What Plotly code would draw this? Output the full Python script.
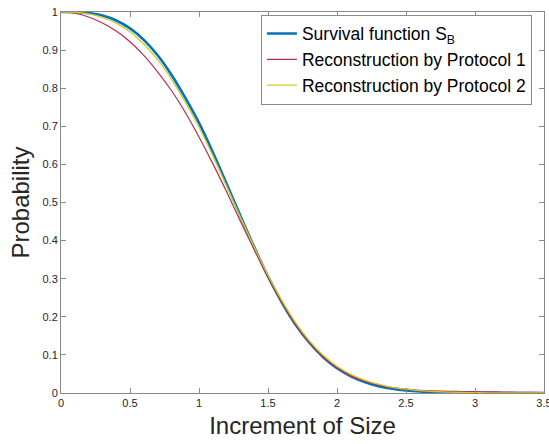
import plotly.graph_objects as go

x_vals = [0.0, 0.1, 0.2, 0.3, 0.4, 0.5, 0.6, 0.7, 0.8, 0.9,
          1.0, 1.1, 1.2, 1.3, 1.4, 1.5, 1.6, 1.7, 1.8, 1.9,
          2.0, 2.1, 2.2, 2.3, 2.4, 2.5, 2.6, 2.7, 2.8, 2.9,
          3.0, 3.1, 3.2, 3.3, 3.4, 3.5]

survival_sb = [1.0, 0.9996, 0.9972, 0.9906, 0.9778, 0.957, 0.9269, 0.8864, 0.8353, 0.775,
               0.709, 0.632, 0.549, 0.465, 0.383, 0.306, 0.238, 0.179, 0.132, 0.094,
               0.065, 0.044, 0.029, 0.018, 0.011, 0.0065, 0.0038, 0.0022, 0.0012, 0.0007,
               0.0004, 0.0002, 0.0001, 0.0, 0.0, 0.0]

protocol_1 = [1.0, 0.9968, 0.987, 0.971, 0.95, 0.922, 0.886, 0.843, 0.794, 0.737,
              0.672, 0.602, 0.528, 0.451, 0.376, 0.304, 0.238, 0.18, 0.132, 0.094,
              0.066, 0.045, 0.031, 0.021, 0.014, 0.01, 0.007, 0.0055, 0.0045, 0.004,
              0.0035, 0.003, 0.0025, 0.002, 0.0015, 0.001]

protocol_2 = [1.0, 0.9993, 0.995, 0.986, 0.971, 0.948, 0.916, 0.875, 0.824, 0.764,
              0.698, 0.623, 0.543, 0.462, 0.383, 0.309, 0.243, 0.185, 0.137, 0.099,
              0.07, 0.049, 0.034, 0.023, 0.015, 0.01, 0.006, 0.004, 0.0025, 0.0015,
              0.001, 0.0005, 0.0003, 0.0002, 0.0001, 0.0]

series_names = ["Survival function S<sub>B</sub>",
                "Reconstruction by Protocol 1",
                "Reconstruction by Protocol 2"]

x_ticks = [0, 0.5, 1, 1.5, 2, 2.5, 3, 3.5]
x_tick_labels = ["0", "0.5", "1", "1.5", "2", "2.5", "3", "3.5"]
y_ticks = [0, 0.1, 0.2, 0.3, 0.4, 0.5, 0.6, 0.7, 0.8, 0.9, 1]
y_tick_labels = ["0", "0.1", "0.2", "0.3", "0.4", "0.5", "0.6", "0.7", "0.8", "0.9", "1"]

FONT = "Liberation Sans, Arial, Helvetica, sans-serif"
TXT = "#262626"

fig = go.Figure()
fig.add_trace(go.Scatter(x=x_vals, y=survival_sb, mode="lines", name=series_names[0],
                         line=dict(color="#0072BD", width=2.6, shape="spline")))
fig.add_trace(go.Scatter(x=x_vals, y=protocol_1, mode="lines", name=series_names[1],
                         line=dict(color="#B82C50", width=1.2, shape="spline")))
fig.add_trace(go.Scatter(x=x_vals, y=protocol_2, mode="lines", name=series_names[2],
                         line=dict(color="#D2CA22", width=1.3, shape="spline")))

axis_common = dict(showgrid=False, zeroline=False, showline=True, mirror="ticks",
                   linecolor="#8a8a8a", linewidth=1, ticks="inside", ticklen=5,
                   tickcolor="#8a8a8a", automargin=False, ticklabeloverflow="allow",
                   tickfont=dict(family=FONT, size=11, color=TXT))

fig.update_xaxes(range=[0, 3.5], tickmode="array", tickvals=x_ticks, ticktext=x_tick_labels,
                 title=dict(text="Increment of Size", font=dict(family=FONT, size=24, color=TXT),
                            standoff=8),
                 **axis_common)
fig.update_yaxes(range=[0, 1], tickmode="array", tickvals=y_ticks, ticktext=y_tick_labels,
                 title=dict(text="Probability", font=dict(family=FONT, size=24, color=TXT),
                            standoff=6),
                 **axis_common)

fig.update_layout(
    width=549, height=444,
    margin=dict(l=61, r=5, t=12, b=51),
    paper_bgcolor="white", plot_bgcolor="white",
    showlegend=True,
    legend=dict(x=0.975, y=0.993, xanchor="right", yanchor="top",
                bgcolor="white", bordercolor="#8a8a8a", borderwidth=1,
                font=dict(family=FONT, size=17.5, color="black"),
                tracegroupgap=0, itemwidth=30),
)

fig.write_html("out.html")
